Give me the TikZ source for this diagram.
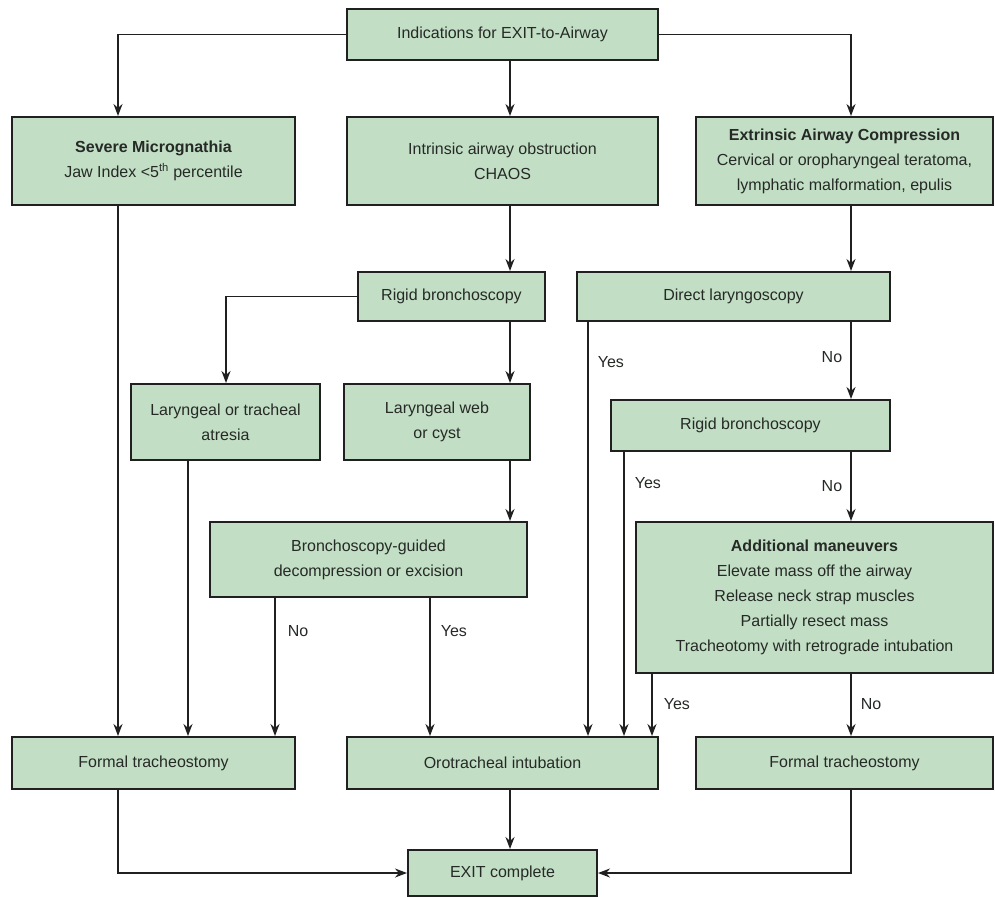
\documentclass[tikz,border=0pt]{standalone}
\usepackage{fontspec}
\setmainfont{Liberation Sans}
\usetikzlibrary{arrows.meta,calc}
\definecolor{boxfill}{RGB}{194,222,197}
\definecolor{ink}{RGB}{32,32,32}
\definecolor{txt}{RGB}{38,42,38}
\begin{document}
\begin{tikzpicture}[x=1pt,y=-1pt,
  font=\fontsize{16}{25}\selectfont,
  box/.style={draw=ink, line width=2pt, fill=boxfill, inner sep=0pt, align=center, text=txt},
  arr/.style={draw=ink, line width=1.7pt, -{Stealth[length=12pt,width=9pt]}},
  lbl/.style={font=\fontsize{16}{18}\selectfont, text=txt, inner sep=0pt}]
\useasboundingbox (0,0) rectangle (995,897);
\fill[white] (0,0) rectangle (995,897);

% boxes
\node[box, minimum width=311pt, minimum height=51pt] (top) at (502.5,34.5) {Indications for EXIT-to-Airway};
\node[box, minimum width=283pt, minimum height=88pt] (sev) at (153.5,161) {\textbf{Severe Micrognathia}\\Jaw Index <5\textsuperscript{th} percentile};
\node[box, minimum width=311pt, minimum height=88pt] (intr) at (502.5,161) {Intrinsic airway obstruction\\CHAOS};
\node[box, minimum width=297pt, minimum height=88pt] (extr) at (844.5,161) {\textbf{Extrinsic Airway Compression}\\Cervical or oropharyngeal teratoma,\\lymphatic malformation, epulis};
\node[box, minimum width=187pt, minimum height=49pt] (rb1) at (451.5,296.5) {Rigid bronchoscopy};
\node[box, minimum width=313pt, minimum height=49pt] (dl) at (733.5,296.5) {Direct laryngoscopy};
\node[box, minimum width=189pt, minimum height=76pt] (atr) at (225.5,422) {Laryngeal or tracheal\\atresia};
\node[box, minimum width=186pt, minimum height=76pt] (web) at (437,422) {Laryngeal web\\or cyst};
\node[box, minimum width=279pt, minimum height=51pt] (rb2) at (750.5,425.5) {Rigid bronchoscopy};
\node[box, minimum width=317pt, minimum height=75pt] (bg) at (368.5,559.5) {Bronchoscopy-guided\\decompression or excision};
\node[box, minimum width=357pt, minimum height=151pt] (am) at (814.5,597.5) {\textbf{Additional maneuvers}\\Elevate mass off the airway\\Release neck strap muscles\\Partially resect mass\\Tracheotomy with retrograde intubation};
\node[box, minimum width=283pt, minimum height=52pt] (ft1) at (153.5,763) {Formal tracheostomy};
\node[box, minimum width=311pt, minimum height=52pt] (oi) at (502.5,763) {Orotracheal intubation};
\node[box, minimum width=297pt, minimum height=52pt] (ft2) at (844.5,763) {Formal tracheostomy};
\node[box, minimum width=189pt, minimum height=46pt] (exit) at (502.5,873) {EXIT complete};

% column coordinates
\coordinate (xA) at (118,0);
\coordinate (xB) at (510,0);
\coordinate (xC) at (851,0);
\coordinate (xD) at (226,0);
\coordinate (xE) at (188,0);
\coordinate (xF) at (275,0);
\coordinate (xG) at (430,0);
\coordinate (xH) at (588,0);
\coordinate (xI) at (624,0);
\coordinate (xJ) at (652,0);

% connectors
\draw[arr] (top.west) -| (sev.north -| xA);
\draw[arr] (top.south -| xB) -- (intr.north -| xB);
\draw[arr] (top.east) -| (extr.north -| xC);
\draw[arr] (intr.south -| xB) -- (rb1.north -| xB);
\draw[arr] (extr.south -| xC) -- (dl.north -| xC);
\draw[arr] (rb1.west) -| (atr.north -| xD);
\draw[arr] (rb1.south -| xB) -- (web.north -| xB);
\draw[arr] (web.south -| xB) -- (bg.north -| xB);
\draw[arr] (dl.south -| xC) -- node[lbl, pos=0.46, left=8pt] {No} (rb2.north -| xC);
\draw[arr] (dl.south -| xH) -- node[lbl, pos=0.096, right=9pt] {Yes} (oi.north -| xH);
\draw[arr] (rb2.south -| xI) -- node[lbl, pos=0.11, right=10pt] {Yes} (oi.north -| xI);
\draw[arr] (rb2.south -| xC) -- node[lbl, pos=0.5, left=8pt] {No} (am.north -| xC);
\draw[arr] (am.south -| xJ) -- node[lbl, pos=0.48, right=11pt] {Yes} (oi.north -| xJ);
\draw[arr] (am.south -| xC) -- node[lbl, pos=0.48, right=9pt] {No} (ft2.north -| xC);
\draw[arr] (bg.south -| xF) -- node[lbl, pos=0.24, right=12pt] {No} (ft1.north -| xF);
\draw[arr] (bg.south -| xG) -- node[lbl, pos=0.24, right=10pt] {Yes} (oi.north -| xG);
\draw[arr] (sev.south -| xA) -- (ft1.north -| xA);
\draw[arr] (atr.south -| xE) -- (ft1.north -| xE);
\draw[arr] (ft1.south -| xA) |- (exit.west);
\draw[arr] (oi.south -| xB) -- (exit.north -| xB);
\draw[arr] (ft2.south -| xC) |- (exit.east);
\end{tikzpicture}
\end{document}
